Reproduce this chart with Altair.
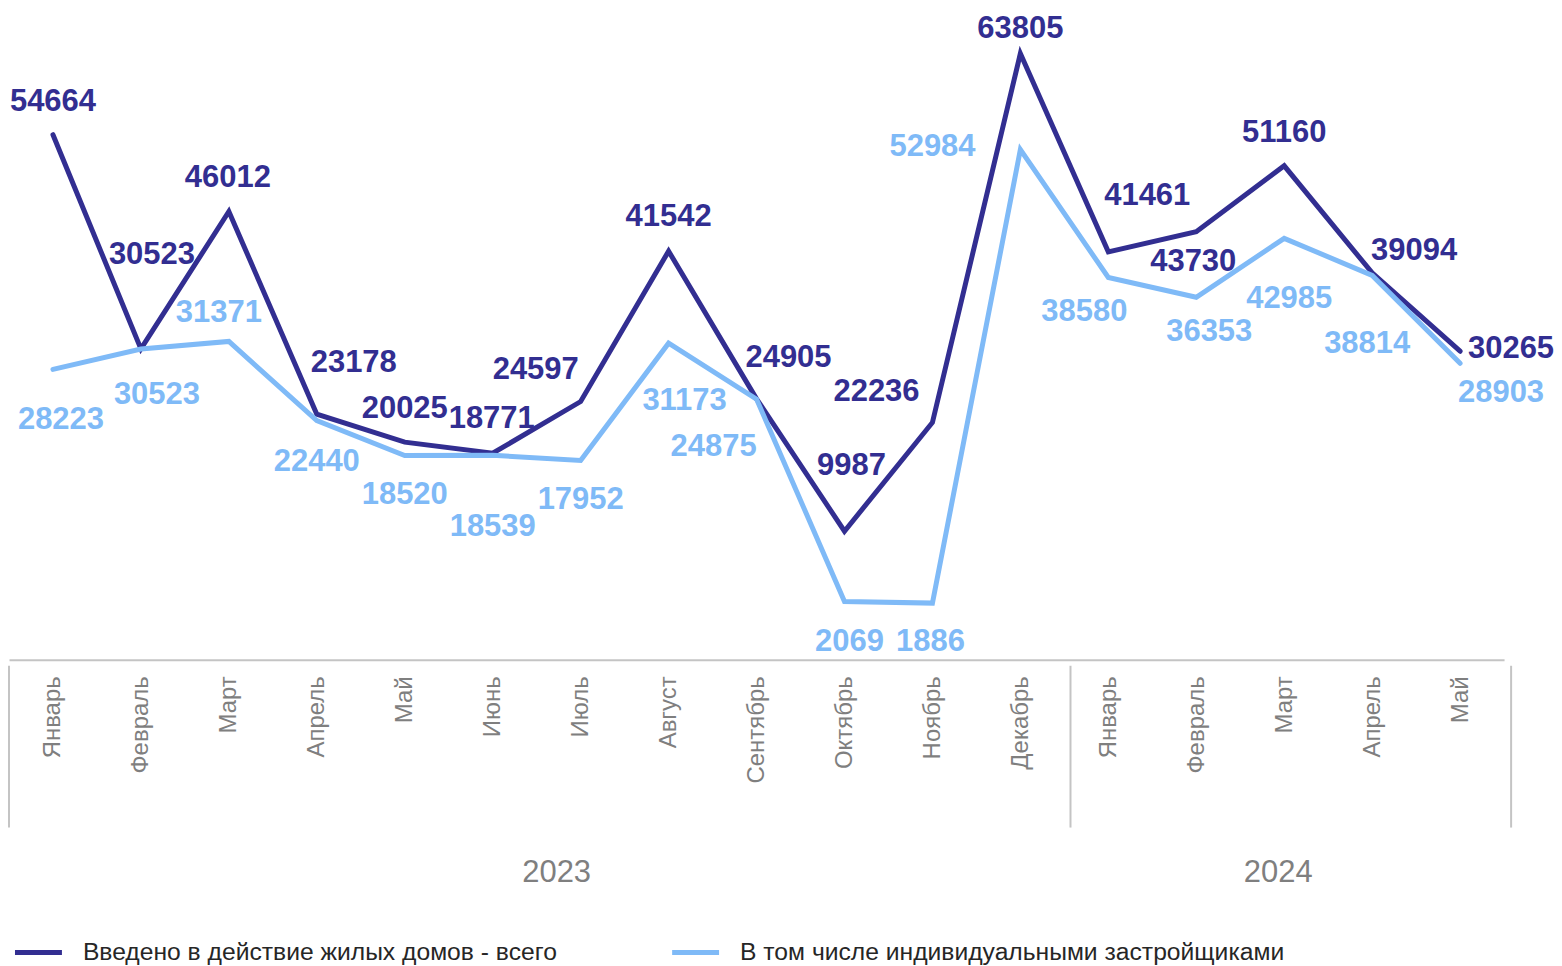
import json
import altair as alt
import pandas as pd

# ---------------- data ----------------
months = ["Январь", "Февраль", "Март", "Апрель", "Май", "Июнь", "Июль", "Август",
          "Сентябрь", "Октябрь", "Ноябрь", "Декабрь",
          "Январь", "Февраль", "Март", "Апрель", "Май"]
years = ["2023"] * 12 + ["2024"] * 5
total = [54664, 30523, 46012, 23178, 20025, 18771, 24597, 41542, 24905, 9987,
         22236, 63805, 41461, 43730, 51160, 39094, 30265]
individual = [28223, 30523, 31371, 22440, 18520, 18539, 17952, 31173, 24875, 2069,
              1886, 52984, 38580, 36353, 42985, 38814, 28903]
series_names = ["Введено в действие жилых домов - всего",
                "В том числе индивидуальными застройщиками"]

# ---------------- style / layout ----------------
DARK = "#322E91"
LIGHT = "#7FBAF7"
GRAY = "#7F7F7F"
RULE = "#C4C4C4"
FONT = "Liberation Sans"
W, H = 1497, 652
Y_DOMAIN = [-4500, 68870]
X_DOMAIN = [-0.5, 16.5]
PPX = W / (X_DOMAIN[1] - X_DOMAIN[0])          # pixels per category step
UPP = (Y_DOMAIN[1] - Y_DOMAIN[0]) / H          # value units per pixel

# label offsets in pixels (centre of text relative to its point)
dark_dx = [0, 11, -1, 37, 0, -1, -45, 0, 32, 7, -56, 0, 39, -3, 0, 42, 51]
dark_dy = [-35, -96, -36, -53, -35, -36, -34, -36, -43, -67, -33, -27, -58, 28, -35, -24, -4]
light_dx = [8, 16, -10, 0, 0, 0, 0, 16, -43, 5, -2, -88, -24, 13, 5, -5, 41]
light_dy = [49, 44, -30, 39, 38, 70, 38, 56, 46, 39, 37, -5, 33, 33, 59, 67, 28]

year_labels = ["2023", "2024"]
year_dx = [20, -6]
separators = [-0.5, 11.57, 16.58]

idx = list(range(len(months)))

lines_df = pd.DataFrame({
    "idx": idx * 2,
    "value": total + individual,
    "series": [series_names[0]] * len(idx) + [series_names[1]] * len(idx),
})


def label_frame(vals, dxs, dys, name):
    return pd.DataFrame({
        "lx": [i + dx / PPX for i, dx in zip(idx, dxs)],
        "ly": [v - (dy + 2) * UPP for v, dy in zip(vals, dys)],
        "text": [str(v) for v in vals],
        "series": name,
    })


labels_df = pd.concat([label_frame(total, dark_dx, dark_dy, series_names[0]),
                       label_frame(individual, light_dx, light_dy, series_names[1])])

yr_df = pd.DataFrame({"year": years, "idx": idx}).groupby("year", as_index=False)["idx"].mean()
yr_df["x"] = [m + d / PPX for m, d in zip(yr_df["idx"], year_dx)]
sep_df = pd.DataFrame({"x": separators})

color_scale = alt.Scale(domain=series_names, range=[DARK, LIGHT])

x_enc = alt.X(
    "idx:Q",
    scale=alt.Scale(domain=X_DOMAIN, nice=False, zero=False),
    axis=alt.Axis(
        values=idx,
        labelExpr=json.dumps(months, ensure_ascii=False) + "[datum.value]",
        labelAngle=270,
        labelAlign="right",
        labelBaseline="middle",
        labelFontSize=24,
        labelFont=FONT,
        labelColor=GRAY,
        labelPadding=16,
        ticks=False,
        grid=False,
        domainColor=RULE,
        domainWidth=2,
        title=None,
    ),
)
y_scale = alt.Scale(domain=Y_DOMAIN, nice=False, zero=False)

line_dark = alt.Chart(lines_df).transform_filter(
    alt.datum.series == series_names[0]
).mark_line(strokeWidth=5, strokeCap="round").encode(
    x=x_enc,
    y=alt.Y("value:Q", scale=y_scale, axis=None),
    color=alt.Color(
        "series:N",
        scale=color_scale,
        legend=alt.Legend(
            orient="none",
            legendX=3.5,
            legendY=919,
            direction="horizontal",
            title=None,
            symbolType="stroke",
            symbolStrokeWidth=5,
            symbolSize=2209,
            labelFont=FONT,
            labelFontSize=24.7,
            labelColor="#262626",
            labelOffset=18.5,
            labelLimit=1000,
            columnPadding=104,
            padding=0,
        ),
    ),
)
line_light = alt.Chart(lines_df).transform_filter(
    alt.datum.series == series_names[1]
).mark_line(strokeWidth=5, strokeCap="round").encode(
    x=alt.X("idx:Q"),
    y=alt.Y("value:Q"),
    color=alt.Color("series:N", scale=color_scale),
)

labels = alt.Chart(labels_df).mark_text(
    font=FONT, fontSize=31, fontWeight="bold", align="center", baseline="middle"
).encode(
    x=alt.X("lx:Q"),
    y=alt.Y("ly:Q"),
    text="text:N",
    color=alt.Color("series:N", scale=color_scale, legend=None),
)

seps = alt.Chart(sep_df).mark_rule(color=RULE, strokeWidth=2).encode(
    x=alt.X("x:Q"),
    y=alt.value(658),
    y2=alt.value(820),
)

year_text = alt.Chart(yr_df).mark_text(
    font=FONT, fontSize=31, color=GRAY, align="center", baseline="middle"
).encode(
    x=alt.X("x:Q"),
    y=alt.value(866),
    text="year:N",
)

chart = alt.layer(seps, line_dark, line_light, labels, year_text).properties(
    width=W,
    height=H,
    autosize=alt.AutoSizeParams(type="none"),
    padding={"left": 1, "top": 0, "right": 50, "bottom": 306},
).configure_view(stroke=None)

chart.save("out.html", embed_options={"renderer": "svg", "actions": False})
